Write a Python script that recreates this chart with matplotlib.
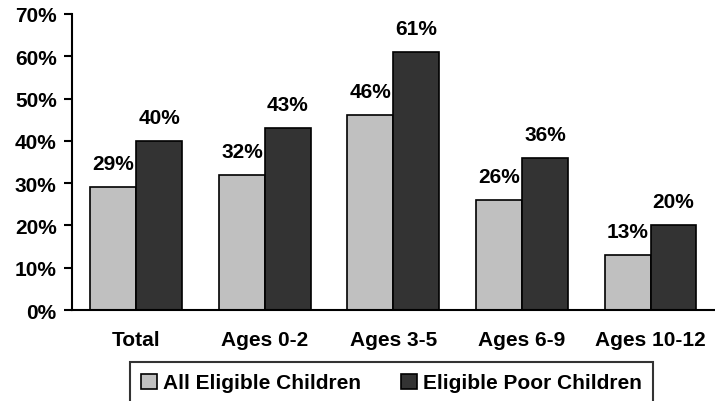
import numpy as np
import matplotlib.pyplot as plt
from matplotlib.ticker import FuncFormatter

categories = ['Total', 'Ages 0-2', 'Ages 3-5', 'Ages 6-9', 'Ages 10-12']
all_eligible = [29, 32, 46, 26, 13]
poor_eligible = [40, 43, 61, 36, 20]
series_names = ['All Eligible Children', 'Eligible Poor Children']

plt.rcParams['font.family'] = ['Liberation Sans', 'DejaVu Sans']
plt.rcParams['font.weight'] = 'bold'
fs = 15

fig = plt.figure(figsize=(7.15, 4.02), dpi=100)
ax = fig.add_axes([0.1007, 0.226, 0.899, 0.737])

x = np.arange(len(categories))
w = 0.357
b1 = ax.bar(x - w / 2, all_eligible, w, color='#c0c0c0', edgecolor='black', linewidth=1.2,
            label=series_names[0])
b2 = ax.bar(x + w / 2, poor_eligible, w, color='#333333', edgecolor='black', linewidth=1.2,
            label=series_names[1])

for bars, vals in [(b1, all_eligible), (b2, poor_eligible)]:
    for rect, v in zip(bars, vals):
        ax.annotate('%d%%' % v, (rect.get_x() + rect.get_width() / 2, v),
                    xytext=(0, 17), textcoords='offset points',
                    ha='center', va='center', fontsize=fs, fontweight='bold')

ax.set_xlim(-0.5, len(categories) - 0.5)
ax.set_ylim(0, 70)
ax.set_yticks(range(0, 71, 10))
ax.yaxis.set_major_formatter(FuncFormatter(lambda v, p: '%d%%' % v))
ax.set_xticks(x)
ax.set_xticklabels(categories)
ax.tick_params(axis='x', length=0, pad=14, labelsize=fs)
ax.tick_params(axis='y', length=6, width=1.5, direction='out', labelsize=fs, pad=5)
for lab in ax.get_xticklabels() + ax.get_yticklabels():
    lab.set_fontweight('bold')

ax.spines['top'].set_visible(False)
ax.spines['right'].set_visible(False)
ax.spines['left'].set_linewidth(1.5)
ax.spines['bottom'].set_linewidth(1.5)

leg = fig.legend(handles=[b1, b2], labels=series_names, loc='upper center',
                 bbox_to_anchor=(0.5476, 0.097), ncol=2, frameon=True, fancybox=False,
                 edgecolor='black', fontsize=fs, handlelength=0.75, handleheight=0.75,
                 handletextpad=0.3, columnspacing=1.9, borderpad=0.55, borderaxespad=0)
leg.get_frame().set_linewidth(1.5)
for t in leg.get_texts():
    t.set_fontweight('bold')

fig.savefig('out.png', dpi=100)
